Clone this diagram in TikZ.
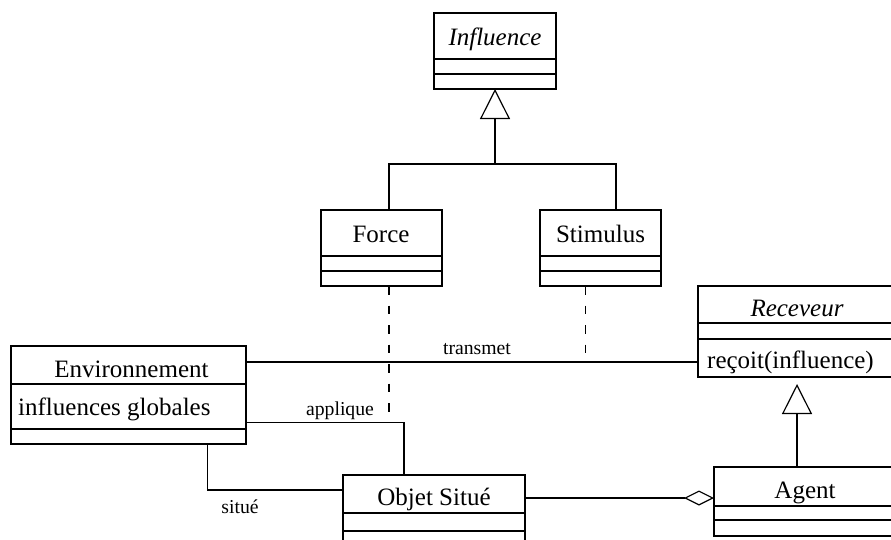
\documentclass[tikz,border=0pt]{standalone}
\usepackage{fontspec}
\setmainfont{Liberation Serif}
\usetikzlibrary{arrows.meta}
\begin{document}
\begin{tikzpicture}[x=1pt,y=-1pt,
  part/.style={draw, line width=1.2pt, rectangle, inner sep=0pt, outer sep=0pt},
  txt/.style={inner sep=0pt, anchor=base, font=\fontsize{25}{30}\selectfont},
  ltxt/.style={txt, anchor=base west},
  lab/.style={inner sep=0pt, anchor=base, font=\fontsize{19.7}{24}\selectfont},
  link/.style={line width=1.2pt},
  dep/.style={link, dash pattern=on 8.5pt off 11pt},
  gen/.style={link, -{Triangle[open, length=30pt, width=30pt, fill=white]}},
  agg/.style={link, -{Diamond[open, length=30pt, width=15pt, fill=white]}},
]
\useasboundingbox (0,0) rectangle (891,539);
\clip (0,0) rectangle (891,539);

% --- classes: name, attribute and operation compartments ---
\node[part, minimum width=122pt, minimum height=46pt] (infl)   at (495,36)   {};
\node[part, minimum width=122pt, minimum height=15pt] (infl-a) at (495,66.5) {};
\node[part, minimum width=122pt, minimum height=15pt] (infl-o) at (495,81.5) {};

\node[part, minimum width=121pt, minimum height=46pt] (force)   at (381.5,233)   {};
\node[part, minimum width=121pt, minimum height=15pt] (force-a) at (381.5,263.5) {};
\node[part, minimum width=121pt, minimum height=15pt] (force-o) at (381.5,278.5) {};

\node[part, minimum width=121pt, minimum height=46pt] (stim)   at (600.5,233)   {};
\node[part, minimum width=121pt, minimum height=15pt] (stim-a) at (600.5,263.5) {};
\node[part, minimum width=121pt, minimum height=15pt] (stim-o) at (600.5,278.5) {};

\node[part, minimum width=235pt, minimum height=38pt] (env)   at (128.5,365)   {};
\node[part, minimum width=235pt, minimum height=45pt] (env-a) at (128.5,406.5) {};
\node[part, minimum width=235pt, minimum height=15pt] (env-o) at (128.5,436.5) {};

\node[part, minimum width=198pt, minimum height=37pt] (rec)   at (797,304.5) {};
\node[part, minimum width=198pt, minimum height=16pt] (rec-a) at (797,331)   {};
\node[part, minimum width=198pt, minimum height=38pt] (rec-o) at (797,358)   {};

\node[part, minimum width=182pt, minimum height=39pt] (agent)   at (805,486.5) {};
\node[part, minimum width=182pt, minimum height=14pt] (agent-a) at (805,513)   {};
\node[part, minimum width=182pt, minimum height=16pt] (agent-o) at (805,528)   {};

\node[part, minimum width=182pt, minimum height=38pt] (obj)   at (434,494) {};
\node[part, minimum width=182pt, minimum height=18pt] (obj-a) at (434,522) {};
\node[part, minimum width=182pt, minimum height=18pt] (obj-o) at (434,540) {};

% --- class texts ---
\node[txt]  (t-infl)    at (495,45)    {\itshape Influence};
\node[txt]  (t-force)   at (381,242)   {Force};
\node[txt]  (t-stim)    at (600.5,242) {Stimulus};
\node[txt]  (t-env)     at (131.5,377) {Environnement};
\node[ltxt] (t-envattr) at (18,415)    {influences globales};
\node[txt]  (t-rec)     at (797,316)   {\itshape Receveur};
\node[ltxt] (t-recop)   at (707,368)   {reçoit(influence)};
\node[txt]  (t-agent)   at (805,498)   {Agent};
\node[txt]  (t-obj)     at (434,505)   {Objet Situé};

% --- generalisation of Force and Stimulus ---
\coordinate (fork) at (495,164);
\draw[link] ([xshift=7.5pt]force.north) |- (fork) -| ([xshift=15.5pt]stim.north);
\draw[gen] (fork) -- (infl-o.south);

% --- Agent is a Receveur ---
\draw[gen, shorten >=7pt] ([xshift=-8pt]agent.north) -- (rec-o.south);

% --- associations ---
\draw[link] ([yshift=3pt]env.east) -- ([yshift=-4pt]rec-o.west);
\node[lab] (l-transmet) at (477,354) {transmet};

\draw[link] ([yshift=-16pt]env-a.east) -| ([xshift=-30pt]obj.north);
\node[lab] (l-applique) at (340,415) {applique};

\draw[link] ([xshift=79pt]env-o.south) |- ([yshift=4pt]obj.west);
\node[lab] (l-situe) at (240,513) {situé};

\draw[agg] ([yshift=-4pt]obj.east) -- ([yshift=-4pt]obj.east -| agent.west);

% --- association classes ---
\draw[dep] ([xshift=7.5pt]force-o.south) -- +(0,128);
\draw[dep] ([xshift=-15pt]stim-o.south) -- +(0,70);
\end{tikzpicture}
\end{document}
